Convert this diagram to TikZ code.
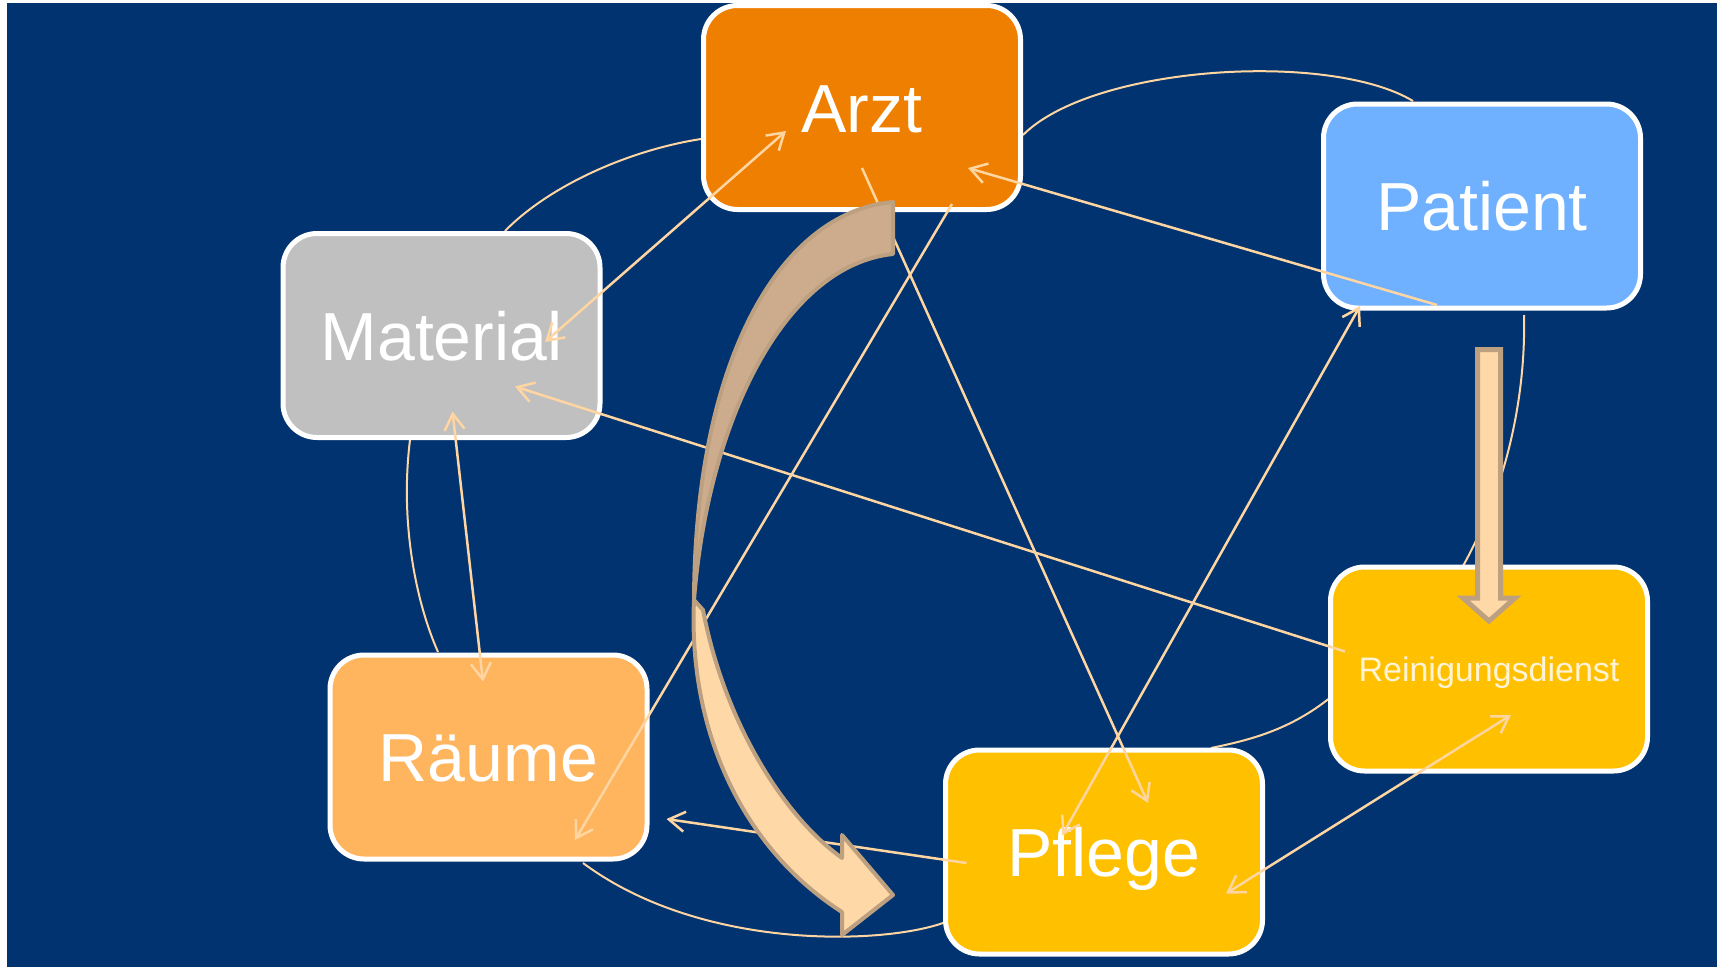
\documentclass[tikz,border=0pt]{standalone}
\usepackage{fontspec}
\setmainfont{Liberation Sans}
\usetikzlibrary{arrows.meta,calc}
\pgfdeclarelayer{bglayer}
\pgfdeclarelayer{arclayer}
\pgfsetlayers{bglayer,arclayer,main}
\definecolor{bgblue}{HTML}{003370}
\definecolor{arztc}{HTML}{EE7F00}
\definecolor{patc}{HTML}{6FB1FF}
\definecolor{matc}{HTML}{C0C0C0}
\definecolor{rauc}{HTML}{FFB45E}
\definecolor{gelb}{HTML}{FFC000}
\definecolor{peach}{HTML}{FFD5A2}
\definecolor{tanline}{HTML}{BDA080}
\definecolor{tanfill}{HTML}{CCAC8C}
\definecolor{arrfill}{HTML}{FFD8A8}
\definecolor{cream}{HTML}{FFF3D6}
\begin{document}
\begin{tikzpicture}[x=1pt,y=-1pt,
  box/.style={rectangle, rounded corners=34pt, draw=white, line width=5pt,
    minimum width=317pt, minimum height=204pt, inner sep=0pt, text=white,
    font=\fontsize{68pt}{80pt}\selectfont, text height=49pt, text depth=0pt},
  smallbox/.style={box, font=\fontsize{34pt}{40pt}\selectfont, text height=24.5pt, text=cream},
  link/.style={draw=peach, line width=2.5pt},
  ring/.style={draw=peach, line width=2pt},
  onehead/.style={-{Straight Barb[length=16pt,width=20pt]}},
  twoheads/.style={{Straight Barb[length=16pt,width=20pt]}-{Straight Barb[length=16pt,width=20pt]}}
]
\useasboundingbox (0,0) rectangle (1717,967);
\begin{pgfonlayer}{bglayer}
\fill[white] (0,0) rectangle (1717,967);
\fill[bgblue] (7,3) rectangle (1717,967);
\end{pgfonlayer}

% boxes
\node[box, fill=arztc] (arzt) at (862,107.5) {Arzt};
\node[box, fill=patc] (pat) at (1482,206) {Patient};
\node[box, fill=matc] (mat) at (441.5,335.5) {Material};
\node[box, fill=rauc] (rau) at (488.5,757) {Räume};
\node[box, fill=gelb] (pfl) at (1104,852) {Pflege};
\node[smallbox, fill=gelb] (rei) at (1489,669) {Reinigungsdienst};

% ring arcs behind boxes
\begin{pgfonlayer}{arclayer}
\draw[ring] ($(mat)+(63.5,-104.5)$) .. controls +(45,-46) and +(-71,11) .. ($(arzt)+(-161,31.5)$);
\draw[ring] ($(arzt)+(161,27.5)$) .. controls +(70,-70) and +(-83,-50) .. ($(pat)+(-69,-105)$);
\draw[ring] ($(pat)+(42,109)$) .. controls +(2,85) and +(42,-76) .. ($(rei)+(-26,-103)$);
\draw[ring] ($(rei)+(-158,28)$) .. controls +(-41,33) and +(39,-8) .. ($(pfl)+(107,-104)$);
\draw[ring] ($(pfl)+(-161,71)$) .. controls +(-63,22) and +(117,87) .. ($(rau)+(94.5,106)$);
\draw[ring] ($(rau)+(-50.5,-105)$) .. controls +(-23,-52) and +(-10,80) .. ($(mat)+(-31.5,104.5)$);
\end{pgfonlayer}

% straight connectors
\draw[link, twoheads] ($(mat)+(103.5,6.5)$) -- ($(arzt)+(-76,23.5)$);
\draw[link, onehead] ($(pat)+(-45,99)$) -- ($(arzt)+(106,60.5)$);
\draw[link, onehead] ($(arzt)+(0,60.5)$) -- ($(pfl)+(44,-49)$);
\draw[link, onehead] ($(arzt)+(90,96.5)$) -- ($(rau)+(86.5,83)$);
\draw[link, twoheads] ($(pfl)+(-42,-16.5)$) -- ($(pat)+(-122,100)$);
\draw[link, onehead] ($(rei)+(-144,-17.5)$) -- ($(mat)+(73.5,51)$);
\draw[link, twoheads] ($(mat)+(11,76)$) -- ($(rau)+(-5.5,-75.5)$);
\draw[link, onehead] ($(pfl)+(-137.5,11)$) -- ($(rau)+(178,62)$);
\draw[link, twoheads] ($(rei)+(22,46)$) -- ($(pfl)+(122,41.5)$);

% big curved arrow (back part)
\filldraw[fill=tanfill, draw=tanline, line width=4pt, line join=round]
  (893,202) .. controls (780,212) and (695,360) .. (694,600)
  .. controls (708,420) and (785,265) .. (893,254) -- cycle;
% big curved arrow (front part)
\filldraw[fill=arrfill, draw=tanline, line width=4pt, line join=round]
  (694,600) .. controls (688,730) and (742,848) .. (842,912)
  -- (842,935) -- (893,895) -- (842,835) -- (842,858)
  .. controls (782,815) and (724,720) .. (703,610) -- cycle;

% block arrow Patient -> Reinigungsdienst
\filldraw[fill=arrfill, draw=tanline, line width=5pt, line join=miter]
  (1477.5,349.5) -- (1500.5,349.5) -- (1500.5,598) -- (1515,598) -- (1489,621)
  -- (1463,598) -- (1477.5,598) -- cycle;
\end{tikzpicture}
\end{document}
